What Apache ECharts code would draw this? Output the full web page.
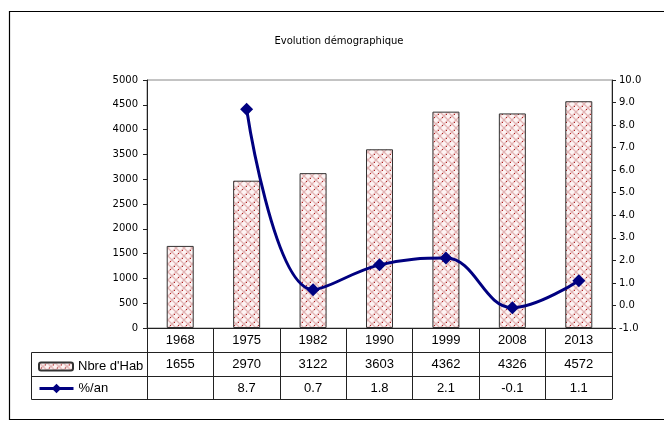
<!DOCTYPE html>
<html>
<head>
<meta charset="utf-8">
<script src="https://cdn.jsdelivr.net/npm/echarts@6/dist/echarts.min.js"></script>
<style>
  html, body { margin: 0; padding: 0; background: #fff; }
  #chart { width: 664px; height: 421px; }
</style>
</head>
<body>
<div id="chart"></div>
<script>
// data
const years = ["1968", "1975", "1982", "1990", "1999", "2008", "2013"];
const habitants = [1655, 2970, 3122, 3603, 4362, 4326, 4572];
const rates = [null, 8.7, 0.7, 1.8, 2.1, -0.1, 1.1];

// pink cross-hatch with dark red dots, like the Excel fill
const makePattern = () => {
  const c = document.createElement("canvas");
  c.width = 8;
  c.height = 8;
  const ctx = c.getContext("2d");
  ctx.fillStyle = "#fdf3f3";
  ctx.fillRect(0, 0, 8, 8);
  ctx.strokeStyle = "#e2b4b4";
  ctx.lineWidth = 1.3;
  ctx.beginPath();
  ctx.moveTo(0, 0); ctx.lineTo(8, 8);
  ctx.moveTo(8, 0); ctx.lineTo(0, 8);
  ctx.stroke();
  ctx.fillStyle = "#b02020";
  ctx.fillRect(2, 5, 1, 1);
  ctx.fillRect(6, 2, 1, 1);
  return { image: c, repeat: "repeat" };
};

const chart = echarts.init(document.getElementById("chart"));
const tableFont = { fontFamily: "Liberation Sans", fontSize: 13, color: "#000" };
const axisFont = { fontFamily: "DejaVu Sans", fontSize: 10, color: "#000" };
const lineColor = "#000080";

const tableAxis = (offset, formatter) => ({
  type: "category",
  data: years,
  position: "bottom",
  offset,
  axisLine: { onZero: false, lineStyle: { color: "#222" } },
  axisTick: { show: false },
  axisLabel: formatter
    ? { ...tableFont, margin: 6, interval: 0, formatter }
    : { show: false },
});

const option = {
  animation: false,
  title: {
    text: "Evolution démographique",
    left: 334,
    top: 31,
    textAlign: "center",
    textStyle: { fontFamily: "DejaVu Sans", fontSize: 10, fontWeight: "normal", color: "#000" },
  },
  legend: [
    {
      data: ["Nbre d'Hab"],
      left: 33,
      top: 355,
      itemWidth: 34,
      itemHeight: 8,
      itemGap: 4,
      selectedMode: false,
      textStyle: tableFont,
    },
    {
      data: ["%/an"],
      left: 33,
      top: 377,
      itemWidth: 34,
      itemHeight: 12,
      selectedMode: false,
      lineStyle: { width: 3, color: lineColor },
      textStyle: tableFont,
    },
  ],
  grid: {
    left: 147,
    right: 52,
    top: 80,
    bottom: 93,
    show: true,
    borderColor: "#888",
    borderWidth: 1,
  },
  xAxis: [
    {
      type: "category",
      data: years,
      axisLine: { onZero: false, lineStyle: { color: "#222" } },
      axisTick: { show: true, alignWithLabel: false, inside: false, length: 71, interval: 0, lineStyle: { color: "#222" } },
      axisLabel: { ...tableFont, margin: 6, interval: 0 },
    },
    tableAxis(24, (v, i) => String(habitants[i])),
    tableAxis(48, (v, i) => (rates[i] === null ? "" : rates[i].toFixed(1))),
    tableAxis(71, null),
  ],
  yAxis: [
    {
      type: "value",
      min: 0,
      max: 5000,
      interval: 500,
      axisLine: { show: true, lineStyle: { color: "#222" } },
      axisTick: { show: true, length: 4, lineStyle: { color: "#222" } },
      axisLabel: { ...axisFont, margin: 9, formatter: (v) => String(v) },
      splitLine: { show: false },
    },
    {
      type: "value",
      min: -1,
      max: 10,
      interval: 1,
      position: "right",
      axisLine: { show: true, lineStyle: { color: "#222" } },
      axisTick: { show: true, length: 4, lineStyle: { color: "#222" } },
      axisLabel: { ...axisFont, margin: 7, formatter: (v) => v.toFixed(1) },
      splitLine: { show: false },
    },
  ],
  series: [
    {
      name: "Nbre d'Hab",
      type: "bar",
      data: habitants,
      barWidth: 27,
      itemStyle: { color: makePattern(), borderColor: "#333", borderWidth: 1 },
    },
    {
      name: "%/an",
      type: "line",
      yAxisIndex: 1,
      data: rates,
      smooth: 0.4,
      symbol: "diamond",
      symbolSize: 13,
      lineStyle: { color: lineColor, width: 3 },
      itemStyle: { color: lineColor },
    },
  ],
  graphic: [
    // outer chart frame
    { type: "rect", shape: { x: 9.5, y: 11.5, width: 700, height: 408 }, style: { fill: null, stroke: "#000", lineWidth: 1.2 }, silent: true },
    // legend column of the data table
    { type: "line", shape: { x1: 31.5, y1: 352.5, x2: 147, y2: 352.5 }, style: { stroke: "#222" } },
    { type: "line", shape: { x1: 31.5, y1: 376.5, x2: 147, y2: 376.5 }, style: { stroke: "#222" } },
    { type: "line", shape: { x1: 31.5, y1: 399.5, x2: 147, y2: 399.5 }, style: { stroke: "#222" } },
    { type: "line", shape: { x1: 31.5, y1: 352.5, x2: 31.5, y2: 399.5 }, style: { stroke: "#222" } },
  ],
};

chart.setOption(option);
</script>
</body>
</html>
